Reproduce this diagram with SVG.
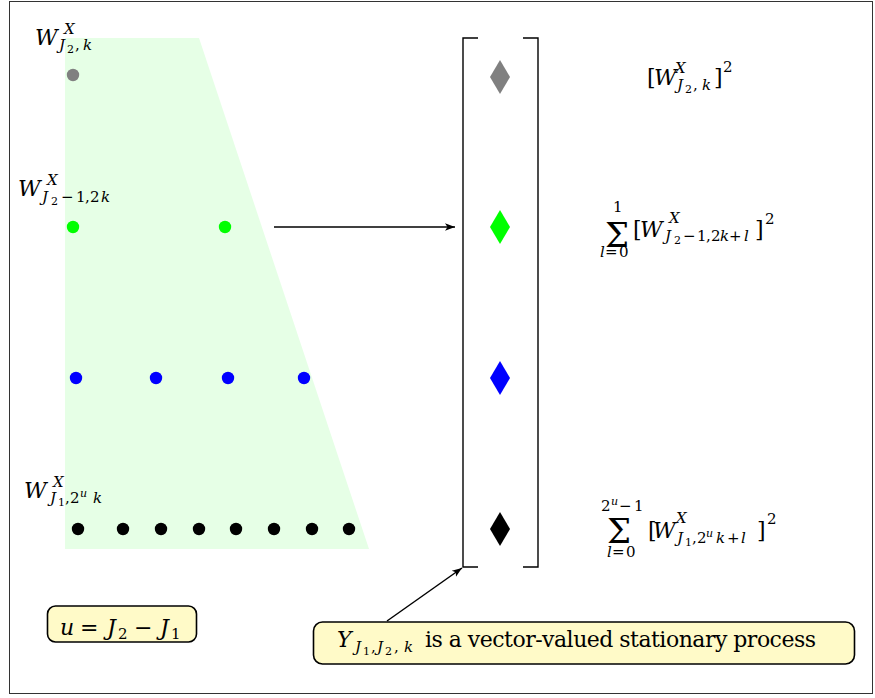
<svg xmlns="http://www.w3.org/2000/svg" width="875" height="698" viewBox="0 0 875 698">
<defs>
<style>
.i{font-family:"DejaVu Serif",serif;font-style:italic;fill:#000}
.u{font-family:"DejaVu Serif",serif;font-style:normal;fill:#000}
.b{font-size:22px}
.s{font-size:15px}
.t{font-size:11px}
.sig{font-size:34px}
.dot{stroke:none}
.note{fill:#fffac8;stroke:#000;stroke-width:1.6}
.br{fill:none;stroke:#000;stroke-width:1.4}
.con{fill:none;stroke:#000;stroke-width:1.5}
</style>
<marker id="ah" viewBox="0 0 10 10" refX="10" refY="5" markerWidth="10" markerHeight="10" markerUnits="userSpaceOnUse" orient="auto">
<path d="M0,1.3 L10,5 L0,8.7 L2.5,5 Z" fill="#000"/>
</marker>
</defs>
<rect x="9.5" y="1.5" width="863" height="692" fill="#fff" stroke="#333" stroke-width="1"/>
<g id="trapezoid"><polygon points="65,38 199,38 369,549 65,549" fill="#e6ffe6"/></g>
<g id="level-top">
<circle class="dot" cx="73" cy="75" r="6.2" fill="#808080"/>
<text><tspan class="i b" x="35" y="45">W</tspan><tspan class="i s" x="64" y="34">X</tspan><tspan class="i s" x="59" y="50">J</tspan><tspan class="u t" x="67" y="53">2</tspan><tspan class="u s" x="75" y="50">,</tspan><tspan class="i s" x="83" y="50">k</tspan></text>
</g>
<g id="level-2">
<circle class="dot" cx="73" cy="227" r="6.2" fill="#00ff00"/>
<circle class="dot" cx="225" cy="227" r="6.2" fill="#00ff00"/>
<text><tspan class="i b" x="18" y="196">W</tspan><tspan class="i s" x="47" y="185">X</tspan><tspan class="i s" x="42" y="202">J</tspan><tspan class="u t" x="51" y="205">2</tspan><tspan class="u s" x="61" y="202">−</tspan><tspan class="u s" x="76" y="202">1</tspan><tspan class="u s" x="85" y="202">,</tspan><tspan class="u s" x="90" y="202">2</tspan><tspan class="i s" x="101" y="202">k</tspan></text>
</g>
<g id="level-3">
<circle class="dot" cx="76" cy="378" r="6.2" fill="#0000ff"/>
<circle class="dot" cx="156" cy="378" r="6.2" fill="#0000ff"/>
<circle class="dot" cx="228" cy="378" r="6.2" fill="#0000ff"/>
<circle class="dot" cx="304" cy="378" r="6.2" fill="#0000ff"/>
</g>
<g id="level-bottom">
<circle class="dot" cx="78" cy="529" r="6.2" fill="#000"/>
<circle class="dot" cx="123" cy="529" r="6.2" fill="#000"/>
<circle class="dot" cx="161" cy="529" r="6.2" fill="#000"/>
<circle class="dot" cx="199" cy="529" r="6.2" fill="#000"/>
<circle class="dot" cx="236" cy="529" r="6.2" fill="#000"/>
<circle class="dot" cx="274" cy="529" r="6.2" fill="#000"/>
<circle class="dot" cx="312" cy="529" r="6.2" fill="#000"/>
<circle class="dot" cx="349" cy="529" r="6.2" fill="#000"/>
<text><tspan class="i b" x="24" y="498">W</tspan><tspan class="i s" x="53" y="487">X</tspan><tspan class="i s" x="50" y="503">J</tspan><tspan class="u t" x="58" y="506">1</tspan><tspan class="u s" x="65" y="503">,</tspan><tspan class="u s" x="70" y="503">2</tspan><tspan class="i t" x="80" y="497">u</tspan><tspan class="i s" x="93" y="503">k</tspan></text>
</g>
<g id="vector">
<path class="br" d="M478,38 H463 V567 H478"/>
<path class="br" d="M523,38 H538 V567 H523"/>
<polygon points="500,60 510,77 500,94 490,77" fill="#808080"/>
<polygon points="500,210 510,227 500,244 490,227" fill="#00ff00"/>
<polygon points="500,361 510,378 500,395 490,378" fill="#0000ff"/>
<polygon points="500,512 510,529 500,546 490,529" fill="#000"/>
</g>
<g id="formula-1">
<text><tspan class="u b" x="647" y="85">[</tspan><tspan class="i b" x="654" y="85">W</tspan><tspan class="i s" x="675" y="73">X</tspan><tspan class="i s" x="677" y="90">J</tspan><tspan class="u t" x="685" y="93">2</tspan><tspan class="u s" x="693" y="90">,</tspan><tspan class="i s" x="702" y="90">k</tspan><tspan class="u b" x="714" y="85">]</tspan><tspan class="u s" x="723" y="72">2</tspan></text>
</g>
<g id="formula-2">
<text><tspan class="u sig" x="605" y="247">Σ</tspan><tspan class="u s" x="613" y="212">1</tspan><tspan class="i s" x="600" y="257">l</tspan><tspan class="u s" x="605" y="257">=</tspan><tspan class="u s" x="619" y="257">0</tspan></text>
<text><tspan class="u b" x="633" y="237">[</tspan><tspan class="i b" x="640" y="237">W</tspan><tspan class="i s" x="669" y="223">X</tspan><tspan class="i s" x="665" y="241">J</tspan><tspan class="u t" x="674" y="244">2</tspan><tspan class="u s" x="683" y="241">−</tspan><tspan class="u s" x="697" y="241">1</tspan><tspan class="u s" x="706" y="241">,</tspan><tspan class="u s" x="711" y="241">2</tspan><tspan class="i s" x="720" y="241">k</tspan><tspan class="u s" x="729" y="241">+</tspan><tspan class="i s" x="744" y="241">l</tspan><tspan class="u b" x="755" y="237">]</tspan><tspan class="u s" x="765" y="224">2</tspan></text>
</g>
<g id="formula-3">
<text><tspan class="u s" x="601" y="511">2</tspan><tspan class="i t" x="611" y="505">u</tspan><tspan class="u s" x="619" y="511">−</tspan><tspan class="u s" x="634" y="511">1</tspan><tspan class="u sig" x="607" y="543">Σ</tspan><tspan class="i s" x="607" y="557">l</tspan><tspan class="u s" x="612" y="557">=</tspan><tspan class="u s" x="626" y="557">0</tspan></text>
<text><tspan class="u b" x="648" y="538">[</tspan><tspan class="i b" x="653" y="538">W</tspan><tspan class="i s" x="676" y="523">X</tspan><tspan class="i s" x="677" y="543">J</tspan><tspan class="u t" x="685" y="546">1</tspan><tspan class="u s" x="692" y="543">,</tspan><tspan class="u s" x="697" y="543">2</tspan><tspan class="i t" x="706" y="537">u</tspan><tspan class="i s" x="716" y="543">k</tspan><tspan class="u s" x="727" y="543">+</tspan><tspan class="i s" x="741" y="543">l</tspan><tspan class="u b" x="757" y="538">]</tspan><tspan class="u s" x="767" y="524">2</tspan></text>
</g>
<g id="note-u">
<rect class="note" x="47.5" y="606" width="149" height="36" rx="8"/>
<text><tspan class="i b" x="60" y="635">u</tspan><tspan class="u b" x="80" y="635">=</tspan><tspan class="i b" x="107" y="635">J</tspan><tspan class="u s" x="118" y="639">2</tspan><tspan class="u b" x="134" y="635">−</tspan><tspan class="i b" x="160" y="635">J</tspan><tspan class="u s" x="171" y="639">1</tspan></text>
</g>
<g id="note-y">
<rect class="note" x="313.5" y="622" width="541" height="42" rx="9"/>
<text><tspan class="i b" x="337" y="647">Y</tspan><tspan class="i s" x="355" y="652">J</tspan><tspan class="u t" x="363" y="655">1</tspan><tspan class="u s" x="371" y="652">,</tspan><tspan class="i s" x="377" y="652">J</tspan><tspan class="u t" x="385" y="655">2</tspan><tspan class="u s" x="394" y="652">,</tspan><tspan class="i s" x="404" y="652">k</tspan></text>
<text class="u" font-size="22" x="425" y="647" textLength="391" lengthAdjust="spacing">is a vector-valued stationary process</text>
</g>
<g id="connectors">
<line class="con" x1="274" y1="227" x2="455" y2="227" marker-end="url(#ah)"/>
<line class="con" x1="387" y1="621" x2="462" y2="568" marker-end="url(#ah)"/>
</g>
</svg>
